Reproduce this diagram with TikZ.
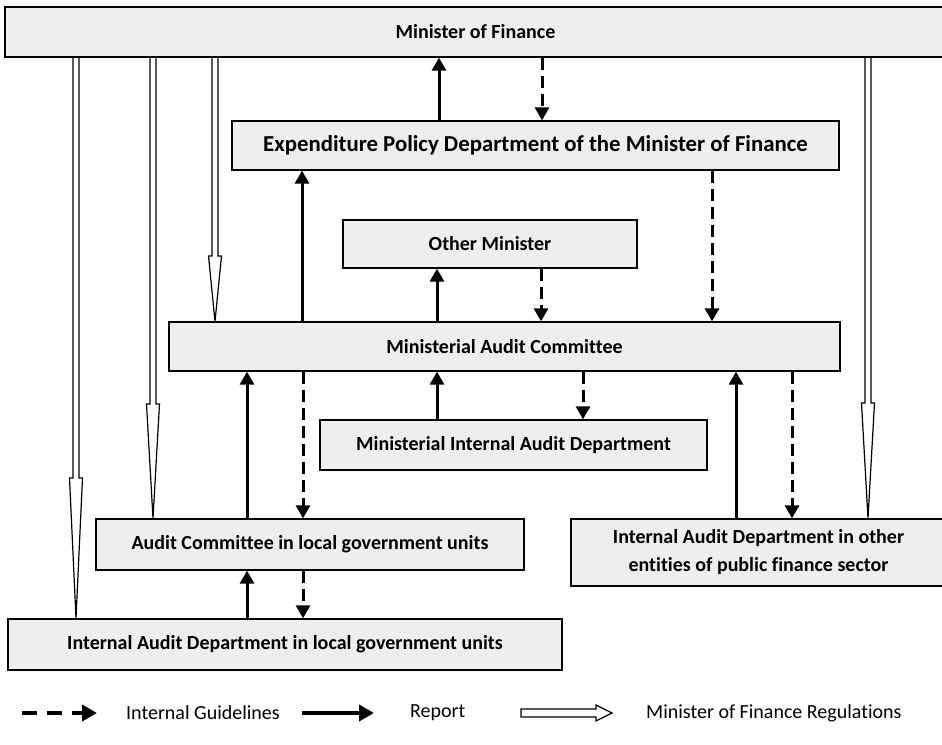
\documentclass[tikz,border=0pt]{standalone}
\usepackage{fontspec}
\setmainfont{Carlito}[Ligatures=CommonOff]
\usetikzlibrary{arrows.meta,backgrounds}
\definecolor{boxfill}{HTML}{EDEEED}
\tikzset{
  box/.style={draw=black, line width=1.3pt, fill=boxfill, inner sep=0pt,
    align=center, font=\fontsize{20}{28}\selectfont\bfseries},
  report/.style={line width=3pt, -{Triangle[width=14pt,length=13pt]}},
  guide/.style={line width=3pt, dash pattern=on 12pt off 6pt,
    -{Triangle[width=14pt,length=13pt]}},
  regline/.style={line width=1.2pt, fill=white, line join=miter},
  legtext/.style={anchor=west, inner sep=0pt, font=\fontsize{20}{24}\selectfont},
  legreport/.style={line width=4pt, -{Triangle[width=16pt,length=15pt]}},
  legguide/.style={line width=4pt, dash pattern=on 15pt off 10pt,
    -{Triangle[width=16pt,length=15pt]}},
}
% block arrow for regulations: column x, source, target, y where the head begins
\newcommand\regarrow[4]{%
  \draw[regline] ({#1-3},0 |- #2.south) -- ({#1-3},#4) -- ({#1-6.5},#4)
    -- (#1,0 |- #3.north) -- ({#1+6.5},#4) -- ({#1+3},#4)
    -- ({#1+3},0 |- #2.south);
}
\begin{document}
\begin{tikzpicture}[x=1pt,y=-1pt]
\clip (0,0) rectangle (942,744);

% organisational units
\node[box, minimum width=941pt, minimum height=50pt] (mof) at (475.5,32) {Minister of Finance};
\node[box, minimum width=607pt, minimum height=49pt,
      font=\fontsize{22.8}{28}\selectfont\bfseries] (exp) at (535.5,145.5)
      {Expenditure Policy Department of the Minister of Finance};
\node[box, minimum width=294pt, minimum height=48pt] (oth) at (490,244) {Other Minister};
\node[box, minimum width=671pt, minimum height=49pt] (mac) at (504.5,346.5) {Ministerial Audit Committee};
\node[box, minimum width=387pt, minimum height=50pt] (miad) at (513.5,445) {Ministerial Internal Audit Department};
\node[box, minimum width=428pt, minimum height=51pt] (aclg) at (310,544.5) {Audit Committee in local government units};
\node[box, minimum width=554pt, minimum height=51pt] (iadlg) at (285,644.5) {Internal Audit Department in local government units};
\node[box, minimum width=375pt, minimum height=67pt] (iado) at (758.5,552.5)
      {Internal Audit Department in other\\entities of public finance sector};

\begin{scope}[on background layer]
\fill[white] (0,0) rectangle (942,744);
% reports (upwards)
\draw[report] (439,0 |- exp.north) -- (439,0 |- mof.south);
\draw[report] (302,0 |- mac.north) -- (302,0 |- exp.south);
\draw[report] (437,0 |- mac.north) -- (437,0 |- oth.south);
\draw[report] (437,0 |- miad.north) -- (437,0 |- mac.south);
\draw[report] (247,0 |- aclg.north) -- (247,0 |- mac.south);
\draw[report] (247,0 |- iadlg.north) -- (247,0 |- aclg.south);
\draw[report] (736,0 |- iado.north) -- (736,0 |- mac.south);
% internal guidelines (downwards)
\draw[guide] (542,0 |- mof.south) -- (542,0 |- exp.north);
\draw[guide] (712,0 |- exp.south) -- (712,0 |- mac.north);
\draw[guide] (541,0 |- oth.south) -- (541,0 |- mac.north);
\draw[guide] (583,0 |- mac.south) -- (583,0 |- miad.north);
\draw[guide] (303,0 |- mac.south) -- (303,0 |- aclg.north);
\draw[guide] (303,0 |- aclg.south) -- (303,0 |- iadlg.north);
\draw[guide] (792,0 |- mac.south) -- (792,0 |- iado.north);
% regulations of the Minister of Finance
\regarrow{76}{mof}{iadlg}{478}
\regarrow{153}{mof}{aclg}{404}
\regarrow{215}{mof}{mac}{256}
\regarrow{868}{mof}{iado}{403}
\end{scope}

% legend
\coordinate (ga) at (22,713);
\coordinate (gb) at (97,713);
\coordinate (ra) at (302,713);
\coordinate (rb) at (374,713);
\node[legtext] (lg) at (126,713) {Internal Guidelines};
\node[legtext] (lr) at (410,713) {Report};
\node[legtext] (lm) at (646,713) {Minister of Finance Regulations};
\draw[legguide] (ga) -- (gb);
\draw[legreport] (ra) -- (rb);
\draw[regline] (521,709) -- (596,709) -- (596,705) -- (612,713)
  -- (596,721) -- (596,717) -- (521,717) -- cycle;
\end{tikzpicture}
\end{document}
